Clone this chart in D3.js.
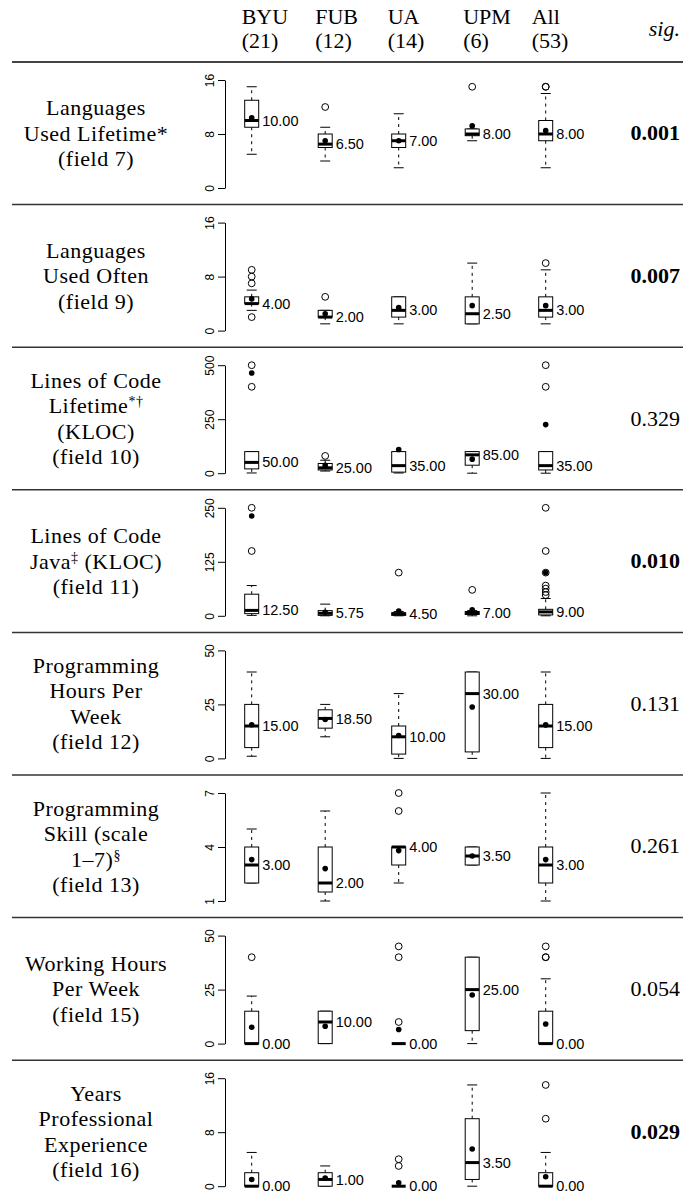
<!DOCTYPE html>
<html>
<head>
<meta charset="utf-8">
<script src="https://cdn.jsdelivr.net/npm/d3@7/dist/d3.min.js"></script>
<style>
  html, body { margin: 0; padding: 0; background: #fff; }
  svg { display: block; }
</style>
</head>
<body>
<svg id="chart" width="683" height="1201"></svg>
<script>
// ---------------- data ----------------
const groups = ["BYU", "FUB", "UA", "UPM", "All"];
const groupN = ["(21)", "(12)", "(14)", "(6)", "(53)"];

const rowLabels = [
  [["Languages"], ["Used Lifetime*"], ["(field 7)"]],
  [["Languages"], ["Used Often"], ["(field 9)"]],
  [["Lines of Code"], ["Lifetime", "*†"], ["(KLOC)"], ["(field 10)"]],
  [["Lines of Code"], ["Java", "‡", " (KLOC)"], ["(field 11)"]],
  [["Programming"], ["Hours Per"], ["Week"], ["(field 12)"]],
  [["Programming"], ["Skill (scale"], ["1–7)", "§"], ["(field 13)"]],
  [["Working Hours"], ["Per Week"], ["(field 15)"]],
  [["Years"], ["Professional"], ["Experience"], ["(field 16)"]]
];

const sigValues = [0.001, 0.007, 0.329, 0.010, 0.131, 0.261, 0.054, 0.029];

const yDomains = [[0, 16], [0, 16], [0, 500], [0, 250], [0, 50], [1, 7], [0, 50], [0, 16]];
const yTicks = [[0, 8, 16], [0, 8, 16], [0, 250, 500], [0, 125, 250], [0, 25, 50], [1, 4, 7], [0, 25, 50], [0, 8, 16]];

// per row: values for BYU, FUB, UA, UPM, All
const whiskerLow = [
  [5, 4, 3, 7, 3],
  [3, 1, 1, 1, 1],
  [1, 10, 1, 0, 0],
  [1, 0, 0, 0, 0],
  [1, 10, 0, 0, 0],
  [2, 1, 2, 3, 1],
  [0, 0, 0, 0, 0],
  [0, 0, 0, 0, 0]
];
const quart1 = [
  [9, 6, 6, 7.75, 7],
  [4, 2, 2, 1, 2],
  [20, 15, 5, 37, 15],
  [5, 1, 1, 3, 2],
  [5, 14, 2, 3, 5],
  [2, 1.5, 3, 3, 2],
  [0, 0, 0, 6, 0],
  [0, 0, 0, 1, 0]
];
const medians = [
  [10, 6.5, 7, 8, 8],
  [4, 2, 3, 2.5, 3],
  [50, 25, 35, 85, 35],
  [12.5, 5.75, 4.5, 7, 9],
  [15, 18.5, 10, 30, 15],
  [3, 2, 4, 3.5, 3],
  [0, 10, 0, 25, 0],
  [0, 1, 0, 3.5, 0]
];
const quart3 = [
  [13, 8, 8, 8.75, 10],
  [5, 3, 5, 5, 5],
  [100, 45, 100, 100, 100],
  [50, 12, 7, 10, 15],
  [25, 22.5, 15, 40, 25],
  [4, 4, 4, 4, 4],
  [15, 15, 0, 40, 15],
  [2, 2, 0, 10, 2]
];
const whiskerHigh = [
  [15, 9, 11, 8.75, 14],
  [6, 3, 5, 10, 9],
  [100, 60, 100, 100, 100],
  [70, 27, 10, 12, 40],
  [40, 25, 30, 40, 40],
  [5, 6, 4, 4, 7],
  [22, 15, 0, 40, 30],
  [5, 3, 0, 15, 5]
];
const means = [
  [10.4, 7.0, 7.0, 9.2, 8.5],
  [4.7, 2.5, 3.4, 3.7, 3.7],
  [464, 37, 110, 65, 225],
  [231, 8, 11, 14, 100],
  [15.6, 18, 10.6, 23.8, 15.5],
  [3.3, 2.8, 3.8, 3.5, 3.3],
  [7.6, 8, 6.5, 22.5, 9.1],
  [1.0, 1.2, 0.5, 5.5, 1.4]
];
const outliers = [
  [[], [12], [], [15], [15, 15]],
  [[2, 7, 8, 9], [5], [], [], [10]],
  [[400, 500], [80], [], [], [400, 500]],
  [[150, 250], [], [100], [60], [48, 55, 63, 70, 100, 150, 250]],
  [[], [], [], [], []],
  [[], [], [6, 7], [], []],
  [[40], [], [10, 40, 45], [], [40, 40, 45]],
  [[], [], [3, 4], [], [10, 15]]
];

// ---------------- layout ----------------
const W = 683;
const serif = "Liberation Serif, Tinos, Times New Roman, serif";
const sans = "Liberation Sans, Arimo, Arial, Helvetica, sans-serif";
const headerRule = 62;
const rowH = 142.6;
const plotTopOff = 18, plotBotOff = 126;
const axisX = 225;
const boxHalf = 7, capHalf = 5;
const labelX = 96;
const lineGap = 25.5;
const headerDx = [-10, -10, -11, -9, -14];

const svg = d3.select("#chart");

const x = d3.scalePoint().domain(groups).range([251.7, 545.7]);

// header
const header = svg.append("g").style("font-family", serif).attr("font-size", 22).attr("fill", "#000");
groups.forEach((g, i) => {
  header.append("text").attr("x", x(g) + headerDx[i]).attr("y", 24).text(g);
  header.append("text").attr("x", x(g) + headerDx[i]).attr("y", 48).text(groupN[i]);
});
header.append("text").attr("x", 680).attr("y", 36).attr("text-anchor", "end")
  .attr("font-style", "italic").text("sig.");

svg.append("line").attr("x1", 12).attr("x2", W).attr("y1", headerRule).attr("y2", headerRule)
  .attr("stroke", "#444").attr("stroke-width", 1.8);

const fmt = d3.format(".2f");

rowLabels.forEach((lab, r) => {
  const top = headerRule + r * rowH;
  const mid = top + rowH / 2;
  const g = svg.append("g");

  if (r > 0) {
    g.append("line").attr("x1", 12).attr("x2", W).attr("y1", top).attr("y2", top)
      .attr("stroke", "#333").attr("stroke-width", 1.5);
  }

  // row label
  const n = lab.length;
  lab.forEach((parts, li) => {
    const yy = mid + (li - (n - 1) / 2) * lineGap + 7.5;
    const tl = g.append("text").style("font-family", serif).attr("font-size", 22)
      .attr("letter-spacing", 0.5).attr("text-anchor", "middle")
      .attr("x", labelX).attr("y", yy);
    parts.forEach((p, pi) => {
      if (pi === 1) {
        tl.append("tspan").attr("font-size", 14).attr("baseline-shift", "50%").text(p);
      } else {
        tl.append("tspan").text(p);
      }
    });
  });

  // sig value
  const sv = sigValues[r];
  g.append("text").attr("x", 680).attr("y", mid + 7).attr("text-anchor", "end")
    .style("font-family", serif).attr("font-size", 22)
    .attr("font-weight", sv < 0.05 ? "bold" : "normal")
    .text(d3.format(".3f")(sv));

  // y scale and axis
  const y = d3.scaleLinear().domain(yDomains[r]).range([top + plotBotOff, top + plotTopOff]);
  const axis = d3.axisLeft(y).tickValues(yTicks[r]).tickSize(7).tickSizeOuter(0)
    .tickFormat(d3.format("d"));
  const ag = g.append("g").attr("transform", `translate(${axisX},0)`).call(axis);
  ag.select(".domain").attr("stroke", "#000").attr("stroke-width", 1);
  ag.selectAll(".tick line").attr("stroke", "#000").attr("stroke-width", 1);
  ag.selectAll(".tick text")
    .style("font-family", sans).attr("font-size", 12).attr("fill", "#000")
    .attr("text-anchor", "middle")
    .attr("x", 0).attr("y", -11).attr("dy", 0)
    .attr("transform", "rotate(-90)");

  // boxes
  groups.forEach((grp, gi) => {
    const cx = x(grp);
    const lo = whiskerLow[r][gi], q1 = quart1[r][gi], md = medians[r][gi],
          q3 = quart3[r][gi], hi = whiskerHigh[r][gi], mn = means[r][gi];
    const bg = g.append("g");
    if (hi > q3) {
      bg.append("line").attr("x1", cx).attr("x2", cx).attr("y1", y(q3)).attr("y2", y(hi))
        .attr("stroke", "#000").attr("stroke-dasharray", "3,4");
    }
    if (lo < q1) {
      bg.append("line").attr("x1", cx).attr("x2", cx).attr("y1", y(q1)).attr("y2", y(lo))
        .attr("stroke", "#000").attr("stroke-dasharray", "3,4");
    }
    bg.append("line").attr("x1", cx - capHalf).attr("x2", cx + capHalf).attr("y1", y(hi)).attr("y2", y(hi))
      .attr("stroke", "#000");
    bg.append("line").attr("x1", cx - capHalf).attr("x2", cx + capHalf).attr("y1", y(lo)).attr("y2", y(lo))
      .attr("stroke", "#000");
    bg.append("rect").attr("x", cx - boxHalf).attr("width", boxHalf * 2)
      .attr("y", y(q3)).attr("height", Math.max(0, y(q1) - y(q3)))
      .attr("fill", "#fff").attr("stroke", "#000").attr("stroke-width", 1);
    bg.append("line").attr("x1", cx - boxHalf).attr("x2", cx + boxHalf).attr("y1", y(md)).attr("y2", y(md))
      .attr("stroke", "#000").attr("stroke-width", 3);
    bg.selectAll("circle.out").data(outliers[r][gi]).enter().append("circle")
      .attr("class", "out").attr("cx", cx).attr("cy", d => y(d)).attr("r", 3.4)
      .attr("fill", "none").attr("stroke", "#000").attr("stroke-width", 1);
    bg.append("circle").attr("cx", cx).attr("cy", y(mn)).attr("r", 2.8).attr("fill", "#000");
    bg.append("text").attr("x", cx + boxHalf + 3.5).attr("y", y(md)).attr("dy", "0.35em")
      .style("font-family", sans).attr("font-size", 14.5).attr("fill", "#000")
      .text(fmt(md));
  });
});
</script>
</body>
</html>
